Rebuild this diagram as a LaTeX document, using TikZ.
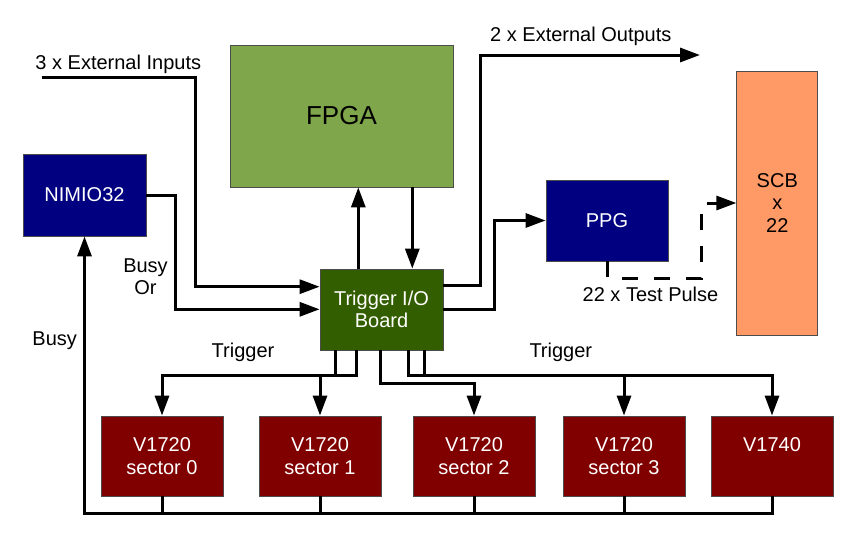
\documentclass[tikz,border=0pt]{standalone}
\usepackage{fontspec}
\setmainfont{Liberation Sans}
\usetikzlibrary{arrows.meta,calc}
\definecolor{fpgac}{HTML}{7FA64A}
\definecolor{navyc}{HTML}{000080}
\definecolor{trigc}{HTML}{335E00}
\definecolor{vc}{HTML}{800000}
\definecolor{scbc}{HTML}{FF9966}
\begin{document}
\begin{tikzpicture}[x=1pt,y=-1pt,
  box/.style={draw=black!70, line width=0.8pt, inner sep=0pt, align=center, font=\fontsize{20}{22.5}\selectfont},
  vbox/.style={box, fill=vc, text=white, minimum width=122pt, minimum height=80pt},
  wire/.style={line width=3pt},
  arr/.style={wire, -{Triangle[length=20pt,width=14pt]}},
  lbl/.style={inner sep=0pt, align=center, font=\fontsize{20}{22.5}\selectfont}]
\useasboundingbox (0,0) rectangle (865,536);

% boxes
\node[box, fill=fpgac, minimum width=223pt, minimum height=142pt, font=\fontsize{26}{30}\selectfont] (fpga) at (341.5,116) {FPGA};
\node[box, fill=navyc, text=white, minimum width=123pt, minimum height=82pt] (nim) at (84.5,195) {NIMIO32};
\node[box, fill=trigc, text=white, minimum width=123pt, minimum height=81pt] (trig) at (381.5,309.5) {Trigger I/O\\Board};
\node[box, fill=navyc, text=white, minimum width=122pt, minimum height=81pt] (ppg) at (607,220.5) {PPG};
\node[box, fill=scbc, minimum width=81pt, minimum height=264pt] (scb) at (777.3,203) {SCB\\x\\22};
\node[vbox] (v0) at (162,456) {V1720\\sector 0};
\node[vbox] (v1) at (320,456) {V1720\\sector 1};
\node[vbox] (v2) at (474,456) {V1720\\sector 2};
\node[vbox] (v3) at (624,456) {V1720\\sector 3};
\node[vbox] (v4) at (772,456) {V1740\\\phantom{sector 4}};

% labels
\node[lbl, anchor=base] (lin) at (118.3,69.3) {3 x External Inputs};
\node[lbl, anchor=base] (lout) at (580.8,41.7) {2 x External Outputs};
\node[lbl] (lbusyor) at (145.5,276.8) {Busy\\Or};
\node[lbl, anchor=base] (lbusy) at (54.7,345.7) {Busy};
\node[lbl, anchor=base] (ltrigl) at (243,357.4) {Trigger};
\node[lbl, anchor=base] (ltrigr) at (560.8,357.4) {Trigger};
\node[lbl, anchor=base] (ltp) at (650.5,301.7) {22 x Test Pulse};

% free ends
\coordinate (ein) at (41.7,77.7);
\coordinate (eout) at (700,55);

% inputs to trigger board
\draw[arr] (ein) -| (195,286.7) -- (trig.west |- 0,286.7);
\draw[arr] (nim.east) -| (175.7,309.3) -- (trig.west |- 0,309.3);

% trigger <-> FPGA
\draw[arr] (trig.north -| 358.3,0) -- (fpga.south -| 358.3,0);
\draw[arr] (fpga.south -| 412.3,0) -- (trig.north -| 412.3,0);

% outputs
\draw[arr] (trig.east |- 0,285.7) -| (480,55) -- (eout);
\draw[arr] (trig.east |- 0,309.3) -| (494,220.5) -- (ppg.west);

% test pulse (dashed)
\draw[arr, dash pattern=on 16pt off 16pt] (ppg.south) -- ++(0,16.7) -| (701.7,203) -- (scb.west);

% triggers to digitizers
\draw[arr] (trig.south -| 356.7,0) |- (v0.north |- 0,375) -- (v0.north);
\draw[wire] (trig.south -| 335.5,0) -- (335.5,375);
\draw[arr] (v1.north |- 0,375) -- (v1.north);
\draw[arr] (trig.south -| 380.7,0) |- (v2.north |- 0,383.3) -- (v2.north);
\draw[arr] (trig.south -| 408,0) |- (v4.north |- 0,375) -- (v4.north);
\draw[wire] (trig.south -| 424.5,0) -- (424.5,375);
\draw[arr] (v3.north |- 0,375) -- (v3.north);

% busy bus
\draw[arr] (v4.south) |- (nim.south |- 0,513) -- (nim.south);
\draw[wire] (v0.south) -- (v0.south |- 0,513);
\draw[wire] (v1.south) -- (v1.south |- 0,513);
\draw[wire] (v2.south) -- (v2.south |- 0,513);
\draw[wire] (v3.south) -- (v3.south |- 0,513);
\end{tikzpicture}
\end{document}
